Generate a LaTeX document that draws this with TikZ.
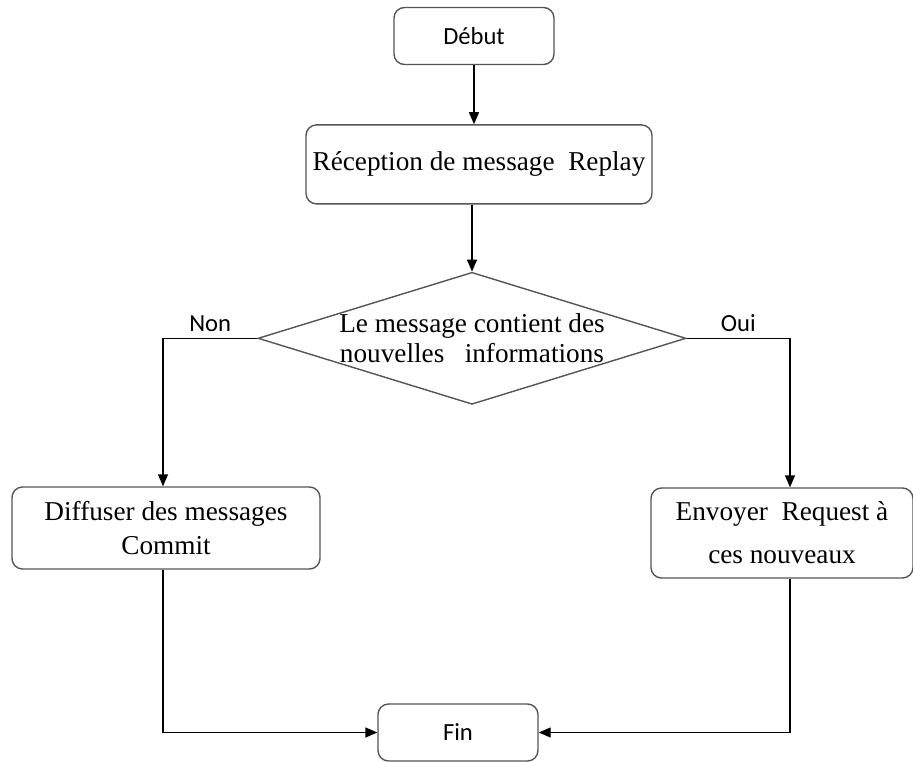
\documentclass[tikz,border=0pt]{standalone}
\usepackage{fontspec}
\setmainfont{Liberation Serif}
\newfontfamily\labelfont{Carlito}
\usetikzlibrary{shapes.geometric,arrows.meta,positioning}
\definecolor{cBorder}{RGB}{85,85,85}
\tikzset{
  basebox/.style={rectangle,rounded corners=6pt,draw=cBorder,line width=0.8pt,
                  align=center},
  termnode/.style={basebox,font=\labelfont\fontsize{14}{17}\selectfont,
                   minimum width=3.2cm,minimum height=1.14cm},
  stepnode/.style={basebox,font=\fontsize{15.5}{19.5}\selectfont},
  decnode/.style={diamond,draw=cBorder,line width=0.8pt,minimum width=8.56cm,
                  minimum height=2.64cm,inner sep=0pt},
  dectext/.style={align=center,font=\fontsize{15.5}{17}\selectfont},
  lbl/.style={font=\labelfont\fontsize{14}{17}\selectfont},
  arr/.style={-{Triangle[length=0.24cm,width=0.2cm]},line width=0.8pt,black}
}
\begin{document}
\begin{tikzpicture}

  \useasboundingbox (0,0) rectangle (18.26,-15.24);

  \node[termnode] (debut) at (9.48,-0.72) {Début};

  \node[stepnode,minimum width=6.92cm,minimum height=1.58cm,
        below=1.18cm of debut,xshift=0.1cm] (recep)
      {Réception de message\ \ Replay};

  % Decision
  \node[decnode,below=1.34cm of recep,xshift=-0.14cm] (dec) {};
  \node[dectext] (dectxt) at (dec)
      {Le message contient des\\nouvelles\ \ \ informations};

  % Two branches
  \node[stepnode,minimum width=6.16cm,minimum height=1.64cm] (diff)
      at (3.32,-10.56) {Diffuser des messages\\Commit};
  \node[stepnode,minimum width=5.24cm,minimum height=1.8cm] (env)
      at (15.64,-10.66) {Envoyer\ \ Request à\\[5pt]ces nouveaux};

  \node[termnode] (fin) at (9.16,-14.65) {Fin};

  \draw[arr] (debut.south) -- (debut.south |- recep.north);
  \draw[arr] (dec.north |- recep.south) -- (dec.north);
  \draw[arr] (dec.west) -| node[pos=0.25,above,lbl]{Non}
      ([xshift=-0.06cm]diff.north);
  \draw[arr] (dec.east) -| node[pos=0.25,above,lbl]{Oui}
      ([xshift=0.16cm]env.north);
  \draw[arr] ([xshift=-0.06cm]diff.south) |- (fin.west);
  \draw[arr] ([xshift=0.16cm]env.south) |- (fin.east);

\end{tikzpicture}
\end{document}
